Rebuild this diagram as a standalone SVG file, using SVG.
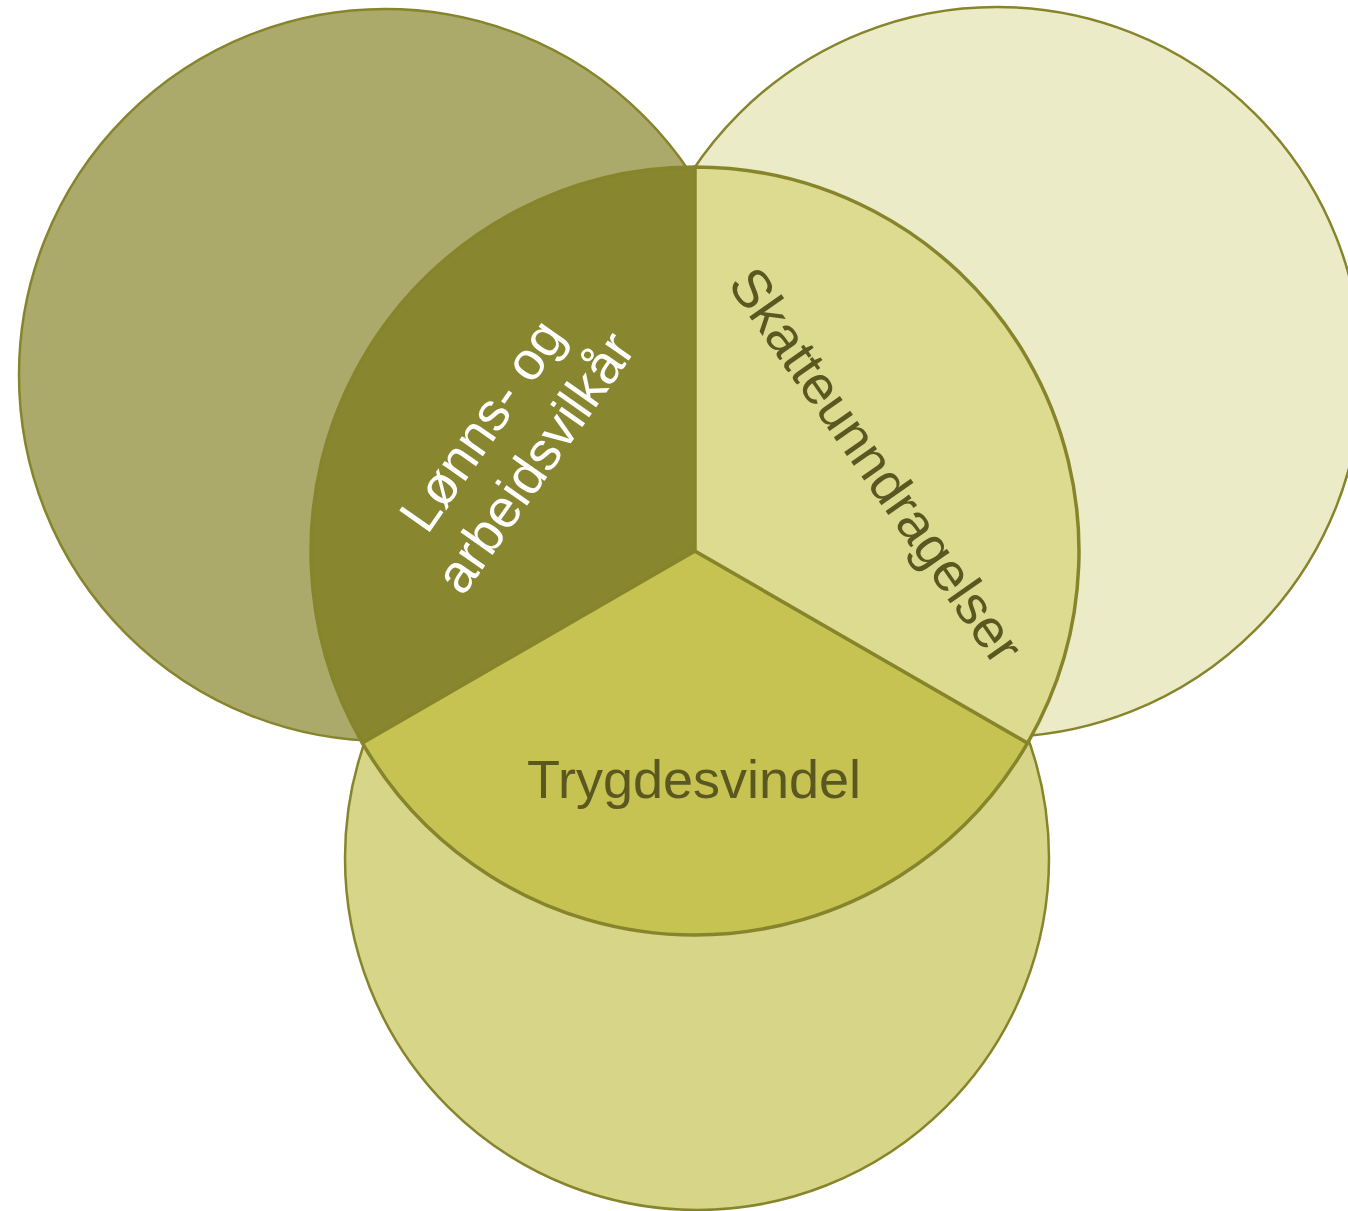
<svg xmlns="http://www.w3.org/2000/svg" width="1348" height="1211" viewBox="0 0 1348 1211">
<style>
.outer{stroke:#87852B;stroke-width:2.5}
.sec{stroke:#87852B;stroke-width:3.5;stroke-linejoin:round}
.lbl{font-family:"Liberation Sans",Arial,sans-serif;font-size:54px;text-anchor:middle}
</style>
<rect width="1348" height="1211" fill="#ffffff"/>
<g id="circle-left"><circle class="outer" cx="385" cy="375" r="366" fill="#ABAA6B"/></g>
<g id="circle-right"><circle class="outer" cx="997" cy="372" r="365" fill="#EBEBC7"/></g>
<g id="circle-bottom"><circle class="outer" cx="697" cy="858" r="352" fill="#D7D587"/></g>
<g id="sector-lonn">
<path class="sec" d="M695,551 L695,167 A384,384 0 0 0 362.45,743 Z" fill="#88862F"/>
<g transform="translate(497,436) rotate(-55)"><text class="lbl" fill="#ffffff">Lønns- og</text></g>
<g transform="translate(550,473) rotate(-55)"><text class="lbl" fill="#ffffff">arbeidsvilkår</text></g>
</g>
<g id="sector-trygd">
<path class="sec" d="M695,551 L1027.55,743 A384,384 0 0 1 362.45,743 Z" fill="#C6C352"/>
<text class="lbl" x="694" y="798" fill="#5A5820">Trygdesvindel</text>
</g>
<g id="sector-skatt">
<path class="sec" d="M695,551 L695,167 A384,384 0 0 1 1027.55,743 Z" fill="#DDDB90"/>
<g transform="translate(861,476) rotate(55)"><text class="lbl" fill="#5A5820">Skatteunndragelser</text></g>
</g>
<g id="connectors"></g>
</svg>
